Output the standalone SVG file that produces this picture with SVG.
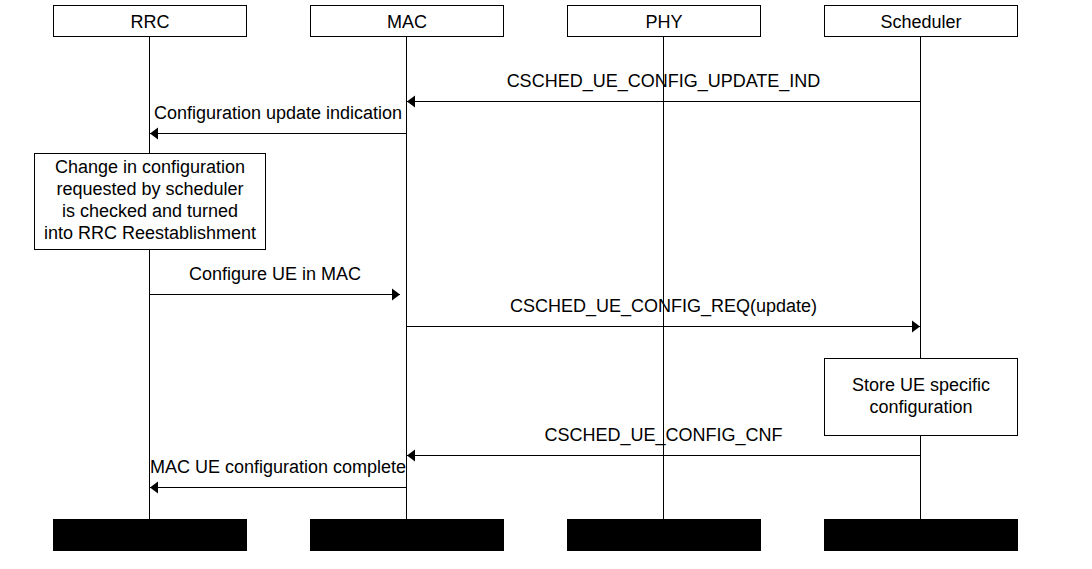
<svg xmlns="http://www.w3.org/2000/svg" width="1092" height="569" viewBox="0 0 1092 569">
<style>
text{font-family:"Liberation Sans",Arial,Helvetica,sans-serif;font-size:18px;fill:#000;text-anchor:middle}
.box{fill:#fff;stroke:#000;stroke-width:1}
.foot{fill:#000;stroke:#000;stroke-width:1}
.life{stroke:#000;stroke-width:1;fill:none}
.msg{stroke:#000;stroke-width:1;fill:none;marker-end:url(#ah)}
</style>
<defs>
<marker id="ah" markerUnits="userSpaceOnUse" markerWidth="8" markerHeight="12" refX="8" refY="6" orient="auto" overflow="visible">
<path d="M0,0 L8,6 L0,12 Z" fill="#000"/>
</marker>
</defs>
<rect width="1092" height="569" fill="#fff"/>
<g id="lifelines">
<line class="life" x1="149.5" y1="37" x2="149.5" y2="519"/>
<line class="life" x1="406.5" y1="37" x2="406.5" y2="519"/>
<line class="life" x1="663.5" y1="37" x2="663.5" y2="519"/>
<line class="life" x1="920.5" y1="37" x2="920.5" y2="519"/>
</g>
<g id="node-rrc">
<rect class="box" x="53.5" y="5.5" width="193" height="31"/>
<text x="150" y="27.5">RRC</text>
<rect class="foot" x="53.5" y="519.5" width="193" height="31"/>
</g>
<g id="node-mac">
<rect class="box" x="310.5" y="5.5" width="193" height="31"/>
<text x="407" y="27.5">MAC</text>
<rect class="foot" x="310.5" y="519.5" width="193" height="31"/>
</g>
<g id="node-phy">
<rect class="box" x="567.5" y="5.5" width="193" height="31"/>
<text x="664" y="27.5">PHY</text>
<rect class="foot" x="567.5" y="519.5" width="193" height="31"/>
</g>
<g id="node-scheduler">
<rect class="box" x="824.5" y="5.5" width="193" height="31"/>
<text x="921" y="27.5">Scheduler</text>
<rect class="foot" x="824.5" y="519.5" width="193" height="31"/>
</g>
<g id="note-rrc">
<rect class="box" x="34.5" y="153.5" width="231" height="96"/>
<text x="150" y="173">Change in configuration</text>
<text x="150" y="195">requested by scheduler</text>
<text x="150" y="217">is checked and turned</text>
<text x="150" y="239">into RRC Reestablishment</text>
</g>
<g id="note-scheduler">
<rect class="box" x="824.5" y="358.5" width="193" height="77"/>
<text x="921" y="391">Store UE specific</text>
<text x="921" y="413">configuration</text>
</g>
<g id="connectors">
<line class="msg" x1="920.5" y1="101.5" x2="407" y2="101.5"/>
<text x="663.5" y="87">CSCHED_UE_CONFIG_UPDATE_IND</text>
<line class="msg" x1="406.5" y1="133.5" x2="150" y2="133.5"/>
<text x="278" y="119">Configuration update indication</text>
<line class="msg" x1="149.5" y1="294.5" x2="400" y2="294.5"/>
<text x="275" y="280">Configure UE in MAC</text>
<line class="msg" x1="406.5" y1="326.5" x2="920" y2="326.5"/>
<text x="663.5" y="312">CSCHED_UE_CONFIG_REQ(update)</text>
<line class="msg" x1="920.5" y1="455.5" x2="407" y2="455.5"/>
<text x="663.5" y="441">CSCHED_UE_CONFIG_CNF</text>
<line class="msg" x1="406.5" y1="487.5" x2="150" y2="487.5"/>
<text x="278" y="473">MAC UE configuration complete</text>
</g>
</svg>
